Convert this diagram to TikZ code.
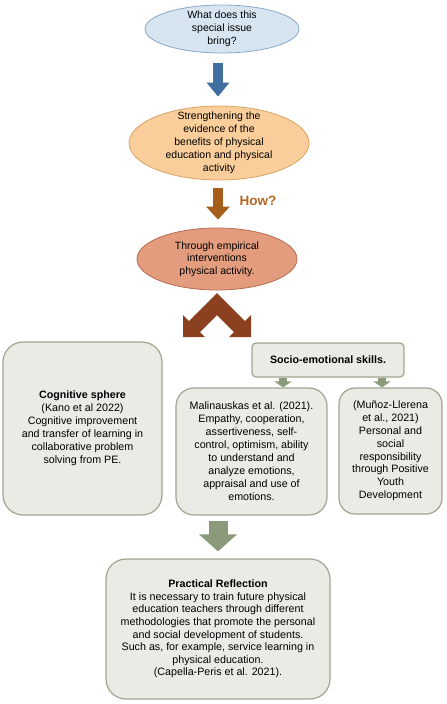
\documentclass[tikz,border=0pt]{standalone}
\usepackage{fontspec}
\setmainfont{Liberation Sans}
\usetikzlibrary{shapes.geometric,arrows.meta}
\definecolor{bluefill}{HTML}{D7E5F1}
\definecolor{blueline}{HTML}{8BA7C6}
\definecolor{bluearr}{HTML}{3F6F9E}
\definecolor{orfill}{HTML}{F9CE9A}
\definecolor{orline}{HTML}{D8A265}
\definecolor{brarr}{HTML}{A65E1B}
\definecolor{howc}{HTML}{B5661F}
\definecolor{salfill}{HTML}{E39C7D}
\definecolor{salline}{HTML}{B56C4F}
\definecolor{rust}{HTML}{8B4120}
\definecolor{boxfill}{HTML}{EAEBE5}
\definecolor{boxline}{HTML}{A0A58F}
\definecolor{grarr}{HTML}{8A9A7A}
\begin{document}
\begin{tikzpicture}[x=1pt,y=-1pt,
  etxt/.style={font=\fontsize{10.5}{13}\selectfont, align=center, inner sep=0pt},
  txt/.style={font=\fontsize{10.7}{13}\selectfont, align=center, inner sep=0pt},
  ell/.style={ellipse, draw, line width=0.8pt, inner sep=0pt},
  rbox/.style={draw=boxline, fill=boxfill, line width=1.2pt, txt},
  blockarrow/.style={line width=#1, line cap=butt}
]
\useasboundingbox (0,0) rectangle (447,704);
\coordinate (ax) at (218,0);

% ellipses
\node[ell, fill=bluefill, draw=blueline, minimum width=154pt, minimum height=48pt] (e1) at (222,29) {};
\node[etxt] (t1) at (e1.center) {What does this\\special issue\\bring?};
\node[ell, fill=orfill, draw=orline, minimum width=180pt, minimum height=74pt] (e2) at (219,143) {};
\node[etxt] (t2) at (e2.center) {Strengthening the\\evidence of the\\benefits of physical\\education and physical\\activity};
\node[ell, fill=salfill, draw=salline, minimum width=160pt, minimum height=62pt] (e3) at (217,259) {};
\node[etxt, font=\fontsize{10.5}{12.5}\selectfont] (t3) at (e3.center) {Through empirical\\interventions\\physical activity.};

% block arrows
\draw[blockarrow=10pt, draw=bluearr, -{Triangle[width=22pt,length=14pt]}, shorten <=10pt, shorten >=9pt] (e1.south -| ax) -- (e2.north -| ax);
\draw[blockarrow=10pt, draw=brarr, -{Triangle[width=23pt,length=13pt]}, shorten <=8pt, shorten >=8pt] (e2.south -| ax) -- (e3.north -| ax);
\node[font=\bfseries\fontsize{13.5}{15}\selectfont, text=howc, inner sep=0pt] (how) at (258,201) {How?};

% chevron double arrow
\fill[rust] (217,293) -- (245,321) -- (251,315) -- (251,337) -- (229,337) -- (234,332) -- (217,315)
  -- (200,332) -- (205,337) -- (183,337) -- (183,315) -- (189,321) -- cycle;

% boxes
\node[rbox, rounded corners=20pt, minimum width=159pt, minimum height=173pt] (cog) at (82.5,428.5)
  {{\bfseries Cognitive sphere}\\(Kano et al 2022)\\Cognitive improvement\\and transfer of learning in\\collaborative problem\\solving from PE.};
\node[rbox, rounded corners=4pt, minimum width=152pt, minimum height=34pt] (so) at (328,360)
  {\bfseries Socio-emotional skills.};
\node[rbox, rounded corners=18pt, minimum width=151pt, minimum height=127pt] (mal) at (251.5,451.5)
  {Malinauskas et al. (2021).\\Empathy, cooperation,\\assertiveness, self-\\control, optimism, ability\\to understand and\\analyze emotions,\\appraisal and use of\\emotions.};
\node[rbox, rounded corners=16pt, minimum width=103pt, minimum height=126pt, font=\fontsize{10.7}{12.8}\selectfont] (mun) at (390.5,451)
  {(Muñoz-Llerena\\et al., 2021)\\Personal and\\social\\responsibility\\through Positive\\Youth\\Development};
\node[rbox, rounded corners=20pt, minimum width=224pt, minimum height=140pt, font=\fontsize{10.7}{12.6}\selectfont] (pr) at (218,629)
  {{\bfseries Practical Reflection}\\It is necessary to train future physical\\education teachers through different\\methodologies that promote the personal\\and social development of students.\\Such as, for example, service learning in\\physical education.\\(Capella-Peris et al. 2021).};

% green arrows
\draw[blockarrow=8pt, draw=grarr, -{Triangle[width=17pt,length=6pt]}] ([xshift=-45pt]so.south) -- ([xshift=-45pt]so.south |- mal.north);
\draw[blockarrow=8pt, draw=grarr, -{Triangle[width=17pt,length=6pt]}] ([xshift=54pt]so.south) -- ([xshift=54pt]so.south |- mun.north);
\draw[blockarrow=19pt, draw=grarr, -{Triangle[width=37pt,length=17pt]}, shorten <=5pt, shorten >=7pt] (pr.north |- mal.south) -- (pr.north);
\end{tikzpicture}
\end{document}
